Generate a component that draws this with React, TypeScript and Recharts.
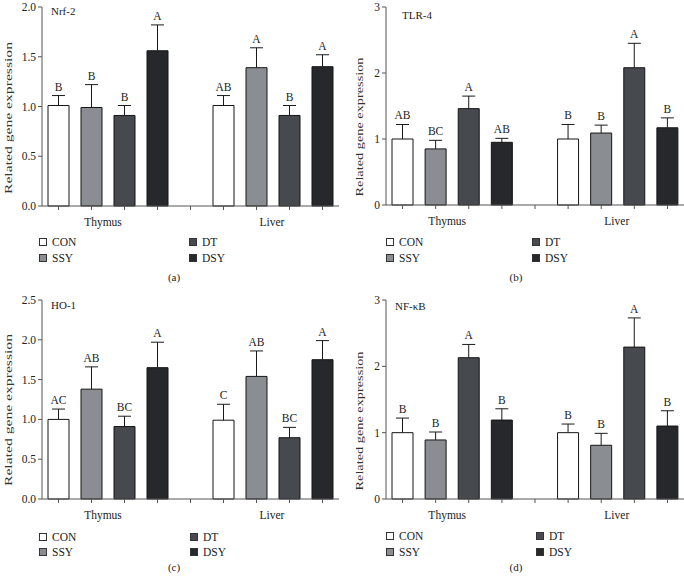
import { Bar, BarChart, Cell, LabelList, XAxis, YAxis } from 'recharts'

const FONT = "'Liberation Serif', 'DejaVu Serif', serif"
const INK = '#222'
const AXIS = '#555'

const groups = ['Thymus', 'Liver']
const treatments = ['CON', 'SSY', 'DT', 'DSY']
const treatmentColors = ['#ffffff', '#8a8d91', '#46494d', '#26282b']

// Nrf-2
const nrf2Mean = [1.01, 0.99, 0.91, 1.56, 1.01, 1.39, 0.91, 1.4]
const nrf2Err = [0.1, 0.23, 0.1, 0.26, 0.1, 0.2, 0.1, 0.12]
const nrf2Letters = ['B', 'B', 'B', 'A', 'AB', 'A', 'B', 'A']
const nrf2Ticks = [0, 0.5, 1, 1.5, 2]

// TLR-4
const tlr4Mean = [1.0, 0.85, 1.46, 0.95, 1.0, 1.09, 2.08, 1.17]
const tlr4Err = [0.22, 0.13, 0.19, 0.06, 0.22, 0.12, 0.37, 0.15]
const tlr4Letters = ['AB', 'BC', 'A', 'AB', 'B', 'B', 'A', 'B']
const tlr4Ticks = [0, 1, 2, 3]

// HO-1
const ho1Mean = [1.0, 1.38, 0.91, 1.65, 0.99, 1.54, 0.77, 1.75]
const ho1Err = [0.13, 0.28, 0.13, 0.32, 0.2, 0.32, 0.13, 0.24]
const ho1Letters = ['AC', 'AB', 'BC', 'A', 'C', 'AB', 'BC', 'A']
const ho1Ticks = [0, 0.5, 1, 1.5, 2, 2.5]

// NF-κB
const nfkbMean = [1.0, 0.89, 2.13, 1.19, 1.0, 0.81, 2.29, 1.1]
const nfkbErr = [0.22, 0.12, 0.2, 0.17, 0.13, 0.18, 0.44, 0.23]
const nfkbLetters = ['B', 'B', 'A', 'B', 'B', 'B', 'A', 'B']
const nfkbTicks = [0, 1, 2, 3]

type Row = {
  slot: string
  mean: number | null
  err: number | null
  letter: string
  color: string
}

// 4 bars per organ with an empty slot between the two organs
function buildRows(mean: number[], err: number[], letters: string[]): Row[] {
  const rows: Row[] = []
  groups.forEach((g, gi) => {
    if (gi > 0) rows.push({ slot: 'gap', mean: null, err: null, letter: '', color: 'none' })
    treatments.forEach((t, ti) => {
      const i = gi * treatments.length + ti
      rows.push({ slot: `${g}-${t}`, mean: mean[i], err: err[i], letter: letters[i], color: treatmentColors[ti] })
    })
  })
  return rows
}

function ErrShape(props: any) {
  const { x, y, width, height, payload } = props
  if (payload?.err == null || !width || !isFinite(y)) return null
  const cx = x + width / 2
  return (
    <g stroke="#1a1a1a" strokeWidth={1}>
      <line x1={cx} y1={y} x2={cx} y2={y + height} />
      <line x1={cx - 6.5} y1={y} x2={cx + 6.5} y2={y} />
    </g>
  )
}

type PanelSpec = {
  left: number
  top: number
  title: string
  caption: string
  mean: number[]
  err: number[]
  letters: string[]
  ticks: number[]
  decimals: number
  axisX: number
  plotTop: number
  plotBottom: number
  right: number
  labelX: number
  labelY: number
  labelLen: number
  titleX: number
  titleY: number
  legendX: number[]
  legendY: number[]
}

const W = 342
const H = 290

function Panel({ p }: { p: PanelSpec }) {
  const rows = buildRows(p.mean, p.err, p.letters)
  const band = (W - p.axisX - p.right) / rows.length
  const max = p.ticks[p.ticks.length - 1]

  const GroupTick = (props: any) => {
    const { x, y, payload } = props
    const slot = String(payload?.value ?? '')
    if (slot !== `${groups[0]}-SSY` && slot !== `${groups[1]}-SSY`) return null
    const name = slot.split('-')[0]
    return (
      <text x={x + band / 2 - (name === groups[0] ? 5 : 1)} y={y + 14} textAnchor="middle" fontSize={11.5} fill={INK} fontFamily={FONT}>
        {name}
      </text>
    )
  }

  return (
    <div style={{ position: 'absolute', left: p.left, top: p.top, width: W, height: H }}>
      <BarChart
        width={W}
        height={H}
        data={rows}
        margin={{ top: p.plotTop, right: p.right, left: 0, bottom: 0 }}
        barCategoryGap={6}
      >
        <XAxis
          dataKey="slot"
          interval={0}
          height={H - p.plotBottom}
          tickSize={4}
          stroke={AXIS}
          tickLine={{ stroke: AXIS }}
          tick={<GroupTick />}
        />
        <YAxis
          width={p.axisX}
          domain={[0, max]}
          ticks={p.ticks}
          interval={0}
          tickSize={4}
          stroke={AXIS}
          tickLine={{ stroke: AXIS }}
          tickFormatter={(v: number) => v.toFixed(p.decimals)}
          tick={{ fontSize: 11.5, fill: INK, fontFamily: FONT }}
          label={{
            content: () => (
              <text
                transform={`translate(${p.labelX},${p.labelY}) rotate(-90)`}
                textAnchor="middle"
                dominantBaseline="central"
                fontSize={11}
                fill="#333"
                fontFamily={FONT}
                textLength={p.labelLen}
                lengthAdjust="spacingAndGlyphs"
              >
                Related gene expression
              </text>
            ),
          }}
        />
        <Bar dataKey="mean" stackId="s" strokeWidth={1} isAnimationActive={false}>
          {rows.map((r, i) => (
            <Cell key={i} fill={r.color} stroke={r.mean == null ? 'none' : '#151515'} />
          ))}
        </Bar>
        <Bar dataKey="err" stackId="s" shape={ErrShape} isAnimationActive={false}>
          <LabelList dataKey="letter" position="top" offset={5} style={{ fontSize: 11.5, fill: INK, fontFamily: FONT }} />
        </Bar>
      </BarChart>

      <div style={{ position: 'absolute', left: p.titleX, top: p.titleY, fontSize: 11, fontFamily: FONT, color: INK, lineHeight: '11px' }}>
        {p.title}
      </div>

      {treatments.map((t, i) => (
        <div
          key={t}
          style={{
            position: 'absolute',
            left: p.legendX[i < 2 ? 0 : 1],
            top: p.legendY[i % 2] - 6,
            display: 'flex',
            alignItems: 'center',
            height: 12,
            fontSize: 11.5,
            fontFamily: FONT,
            color: INK,
          }}
        >
          <span style={{ display: 'inline-block', width: 6, height: 6, border: '1px solid #333', background: treatmentColors[i], marginRight: 5 }} />
          {t}
        </div>
      ))}

      <div style={{ position: 'absolute', left: 0, width: 348, top: 271, textAlign: 'center', fontSize: 11, fontFamily: FONT, color: INK }}>
        {p.caption}
      </div>
    </div>
  )
}

// legend order in reference: CON, SSY (left column), DT, DSY (right column)
const panels: PanelSpec[] = [
  {
    left: 0, top: 0, title: 'Nrf-2', caption: '(a)',
    mean: nrf2Mean, err: nrf2Err, letters: nrf2Letters, ticks: nrf2Ticks, decimals: 1,
    axisX: 42, plotTop: 7, plotBottom: 206, right: 3,
    labelX: 8, labelY: 118, labelLen: 152, titleX: 51, titleY: 6,
    legendX: [39, 189], legendY: [242, 258],
  },
  {
    left: 342, top: 0, title: 'TLR-4', caption: '(b)',
    mean: tlr4Mean, err: tlr4Err, letters: tlr4Letters, ticks: tlr4Ticks, decimals: 0,
    axisX: 44, plotTop: 7, plotBottom: 205, right: 0,
    labelX: 17, labelY: 127, labelLen: 139, titleX: 60, titleY: 10,
    legendX: [44, 190], legendY: [242, 258],
  },
  {
    left: 0, top: 290, title: 'HO-1', caption: '(c)',
    mean: ho1Mean, err: ho1Err, letters: ho1Letters, ticks: ho1Ticks, decimals: 1,
    axisX: 42, plotTop: 10, plotBottom: 209, right: 3,
    labelX: 8, labelY: 120, labelLen: 152, titleX: 51, titleY: 10,
    legendX: [39, 190], legendY: [247, 262],
  },
  {
    left: 342, top: 290, title: 'NF-κB', caption: '(d)',
    mean: nfkbMean, err: nfkbErr, letters: nfkbLetters, ticks: nfkbTicks, decimals: 0,
    axisX: 44, plotTop: 10, plotBottom: 209, right: 0,
    labelX: 17, labelY: 131, labelLen: 139, titleX: 53, titleY: 11,
    legendX: [44, 194], legendY: [246, 262],
  },
]

export default function App() {
  return (
    <div style={{ position: 'absolute', left: 0, top: 0, width: 684, height: 579, background: '#fff', overflow: 'hidden' }}>
      {panels.map(p => (
        <Panel key={p.caption} p={p} />
      ))}
    </div>
  )
}
